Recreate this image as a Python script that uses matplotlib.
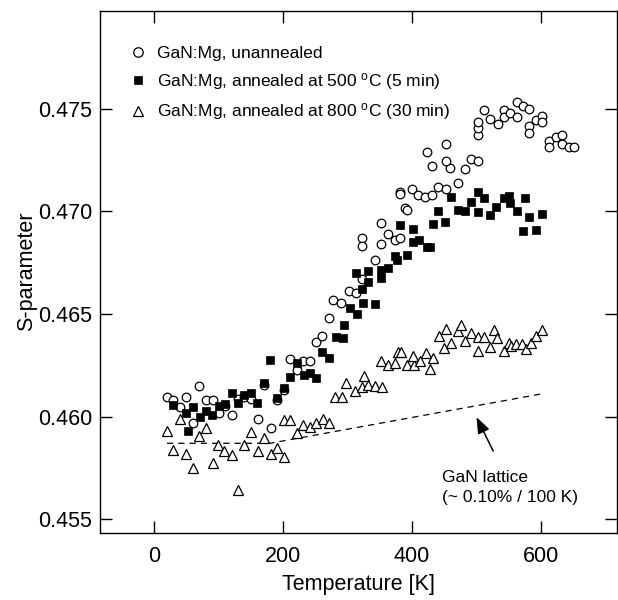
import matplotlib
matplotlib.use("Agg")
import matplotlib.pyplot as plt

plt.rcParams['font.family'] = ['Liberation Sans', 'DejaVu Sans']
plt.rcParams['mathtext.default'] = 'regular'

# GaN:Mg, unannealed (open circles)
T_unann = [20, 29, 40, 50, 61, 70, 80, 91, 100, 110,
           121, 130, 140, 151, 161, 171, 181, 191, 201, 211,
           221, 231, 241, 251, 261, 271, 278, 290, 303, 313,
           322, 323, 323, 343, 352, 352, 362, 373, 382, 382,
           382, 389, 392, 400, 410, 420, 431, 441, 452, 471,
           482, 459, 453, 431, 423, 452, 492, 503, 502, 502,
           502, 512, 521, 533, 542, 542, 552, 563, 563, 572,
           582, 592, 582, 582, 602, 602, 613, 613, 623, 632,
           632, 643, 652]
S_unann = [.46093, .46081, .46049, .46093, .45971, .46151, .46081, .46081, .46017, .46052,
           .46008, .46085, .46097, .46085, .45987, .46154, .45944, .46081, .46130, .46279,
           .46227, .46271, .46273, .46365, .46393, .46482, .46568, .46555, .46613, .46604,
           .46670, .46869, .46831, .46763, .46942, .46841, .46890, .46860, .46869, .47096,
           .47084, .47015, .47006, .47107, .47079, .47071, .47079, .47120, .47107, .47139,
           .47205, .47209, .47246, .47221, .47290, .47329, .47257, .47246, .47371, .47404,
           .47436, .47493, .47448, .47425, .47493, .47457, .47477, .47460, .47533, .47512,
           .47499, .47444, .47415, .47379, .47464, .47436, .47344, .47312, .47363, .47371,
           .47328, .47315, .47312]

# GaN:Mg, annealed at 500 C (filled squares)
T_500 = [29, 50, 52, 61, 71, 80, 90, 100, 110, 121,
         130, 140, 151, 160, 170, 180, 190, 201, 211, 221,
         232, 242, 251, 261, 271, 282, 293, 295, 304, 314,
         324, 343, 313, 323, 332, 332, 352, 352, 362, 373,
         377, 393, 382, 402, 402, 411, 423, 428, 432, 441,
         451, 461, 472, 482, 491, 502, 502, 511, 521, 530,
         542, 550, 552, 563, 576, 582, 572, 592, 602]
S_500 = [.46057, .46017, .45932, .46046, .45997, .46029, .46007, .46052, .46062, .46114,
         .46065, .46106, .46114, .46065, .46165, .46276, .46090, .46138, .46192, .46260,
         .46203, .46214, .46187, .46315, .46284, .46390, .46382, .46446, .46528, .46500,
         .46552, .46549, .46698, .46620, .46657, .46711, .46674, .46714, .46723, .46782,
         .46763, .46786, .46932, .46912, .46851, .46860, .46825, .46825, .46938, .47003,
         .46947, .47068, .47006, .47003, .47044, .47094, .46997, .47063, .46982, .47022,
         .47063, .47075, .47039, .47003, .47063, .46971, .46904, .46909, .46987]

# GaN:Mg, annealed at 800 C (open triangles)
T_800 = [20, 40, 29, 50, 70, 80, 60, 91, 99, 109,
         121, 130, 140, 151, 161, 171, 181, 190, 201, 201,
         211, 221, 231, 242, 251, 262, 271, 281, 291, 298,
         312, 323, 326, 332, 343, 353, 352, 362, 373, 378,
         383, 392, 403, 402, 413, 422, 428, 433, 442, 452,
         450, 461, 472, 476, 482, 491, 502, 502, 512, 521,
         527, 532, 542, 550, 553, 562, 571, 577, 584, 593,
         602]
S_800 = [.45932, .45987, .45838, .45818, .45906, .45944, .45749, .45776, .45862, .45830,
         .45812, .45643, .45861, .45927, .45834, .45895, .45818, .45846, .45984, .45805,
         .45981, .45922, .45960, .45948, .45968, .45990, .45968, .46093, .46097, .46163,
         .46127, .46146, .46198, .46153, .46149, .46146, .46273, .46250, .46263, .46315,
         .46316, .46250, .46252, .46296, .46273, .46309, .46231, .46284, .46393, .46426,
         .46334, .46357, .46419, .46446, .46370, .46409, .46390, .46321, .46390, .46338,
         .46422, .46382, .46321, .46357, .46344, .46354, .46354, .46328, .46357, .46393,
         .46422]

# GaN lattice reference (dashed)
T_lattice = [20, 180, 600]
S_lattice = [0.4587, 0.4587, 0.4611]

fig = plt.figure(figsize=(6.18, 6.0), dpi=100)
ax = fig.add_axes([0.1618, 0.1117, 0.8366, 0.8708])

ax.plot(T_lattice, S_lattice, color='k', lw=0.9, dashes=(5, 4))
ax.plot(T_unann, S_unann, 'o', ms=6.2, mfc='white', mec='k', mew=0.9,
        label='GaN:Mg, unannealed')
ax.plot(T_500, S_500, 's', ms=5.4, mfc='k', mec='k', mew=0.5,
        label=r'GaN:Mg, annealed at 500 $^{o}$C (5 min)')
ax.plot(T_800, S_800, '^', ms=6.6, mfc='white', mec='k', mew=0.9,
        label=r'GaN:Mg, annealed at 800 $^{o}$C (30 min)')

ax.annotate('', xy=(500, 0.45997), xytext=(526, 0.45832),
            arrowprops=dict(arrowstyle='-|>,head_length=0.65,head_width=0.25',
                            color='k', lw=1.1, mutation_scale=15,
                            shrinkA=0, shrinkB=0))
ax.text(447, 0.45702, 'GaN lattice', fontsize=12.5, va='center', ha='left')
ax.text(447, 0.45604, '(~ 0.10% / 100 K)', fontsize=12.5, va='center', ha='left')

ax.set_xlim(-84, 718)
ax.set_ylim(0.45433, 0.47978)
ax.set_xticks([0, 200, 400, 600])
ax.set_yticks([0.455, 0.460, 0.465, 0.470, 0.475])
ax.set_yticklabels(['0.455', '0.460', '0.465', '0.470', '0.475'])

ax.tick_params(direction='in', length=8.5, width=1.0, top=True, right=True,
               labelsize=15.5)
ax.tick_params(axis='x', pad=9.5)
ax.tick_params(axis='y', pad=5.5)
for sp in ax.spines.values():
    sp.set_linewidth(1.0)

ax.set_xlabel('Temperature [K]', fontsize=15.5, labelpad=5)
ax.set_ylabel('S-parameter', fontsize=15.5, labelpad=1)

ax.legend(loc='upper left', bbox_to_anchor=(0.043, 0.945), borderaxespad=0,
          frameon=False, fontsize=12.5, handlelength=1.0, handletextpad=0.6,
          labelspacing=0.55, numpoints=1, markerscale=1.1)

fig.savefig('out.png', dpi=100)
